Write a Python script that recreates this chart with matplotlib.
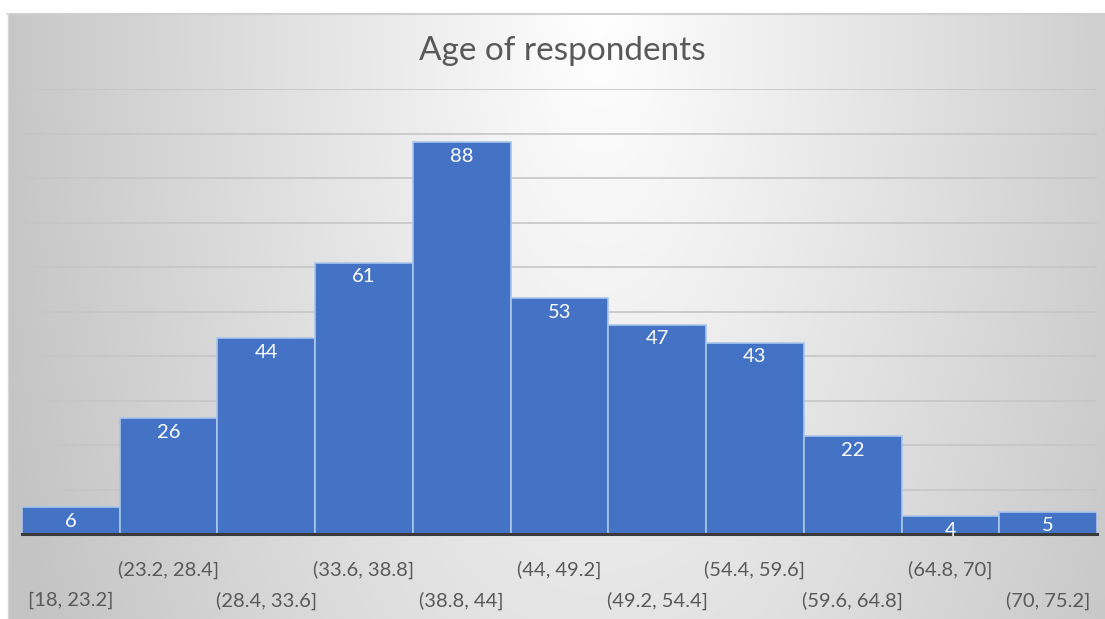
import numpy as np
import matplotlib
matplotlib.use("Agg")
import matplotlib.pyplot as plt

# Age bins and respondent counts
bins = ["[18, 23.2]", "(23.2, 28.4]", "(28.4, 33.6]", "(33.6, 38.8]", "(38.8, 44]",
        "(44, 49.2]", "(49.2, 54.4]", "(54.4, 59.6]", "(59.6, 64.8]", "(64.8, 70]",
        "(70, 75.2]"]
counts = [6, 26, 44, 61, 88, 53, 47, 43, 22, 4, 5]
title = "Age of respondents"

W, H = 1105, 619
DPI = 100
plt.rcParams["font.family"] = ["Lato", "DejaVu Sans"]

fig = plt.figure(figsize=(W / DPI, H / DPI), dpi=DPI, facecolor="white")

# Chart-area background: soft radial grey-to-white shading
bg = fig.add_axes([8 / W, 0, 1 - 8 / W, (H - 14) / H], zorder=0)
ny, nx = 300, 550
yy, xx = np.mgrid[0:1:ny * 1j, 0:1:nx * 1j]
d = np.sqrt(((xx - 0.54) / 0.5) ** 2 + (0.5 * yy) ** 2)
v = np.clip(255 - 52 * d, 196, 255) / 255.0
bg.imshow(np.dstack([v, v, v]), aspect="auto", extent=[0, 1, 1, 0],
          interpolation="bilinear")
bg.set_xlim(0, 1)
bg.set_ylim(1, 0)
bg.axis("off")
# light frame line along the top/left of the chart area
fig.add_artist(plt.Line2D([8 / W, 1], [(H - 14) / H] * 2, color="#cfcfcf", lw=1.5))
fig.add_artist(plt.Line2D([8 / W] * 2, [0, (H - 14) / H], color="#d6d6d6", lw=1.0))

ax = fig.add_axes([22 / W, 85 / H, (1097 - 22) / W, (534 - 89) / H], zorder=1)
ax.patch.set_alpha(0)

x = np.arange(len(counts))
ax.bar(x, counts, width=1.0, color="#4472C4", edgecolor="#a9c6ea",
       linewidth=1.2, zorder=3)

ax.set_xlim(-0.5, len(counts) - 0.5)
ax.set_ylim(0, 100)
ax.set_yticks(np.arange(10, 101, 10))
ax.yaxis.grid(True, color="#c6c6c6", linewidth=1.2, zorder=0)
ax.set_axisbelow(True)
ax.tick_params(left=False, labelleft=False, bottom=False, labelbottom=False)
for s in ["top", "left", "right"]:
    ax.spines[s].set_visible(False)
ax.spines["bottom"].set_color("#3a3a3a")
ax.spines["bottom"].set_linewidth(2.2)
ax.spines["bottom"].set_zorder(4)

# value labels inside the top of each bar
for xi, c in zip(x, counts):
    ax.annotate(str(c), (xi, c), xytext=(0, -4), textcoords="offset points",
                ha="center", va="top", color="white", fontsize=14.5, zorder=5)

# staggered category labels on two rows
for xi, lab in zip(x, bins):
    yoff = -26 if xi % 2 == 1 else -48
    ax.annotate(lab, (xi, 0), xytext=(0, yoff), textcoords="offset points",
                ha="center", va="center", color="#595959", fontsize=14.5,
                annotation_clip=False)

fig.text(562 / W, 1 - 51 / H, title, ha="center", va="center",
         color="#595959", fontsize=24)

fig.savefig("out.png", dpi=DPI, facecolor="white")
